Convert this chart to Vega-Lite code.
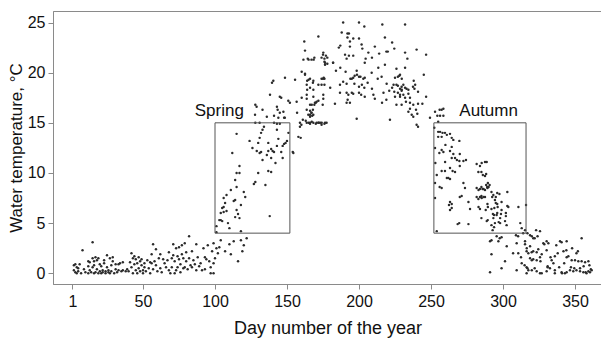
{
"$schema": "https://vega.github.io/schema/vega-lite/v6.json",
"width": 549, "height": 273,
"autosize": {"type": "none"},
"padding": {"left": 53, "top": 11, "right": 0, "bottom": 56},
"config": {"view": {"stroke": "#8a8a8a", "strokeWidth": 1}, "font": "Liberation Sans"},
"datasets": {
"pts": [
[2,0.8],[2,0.3],[3,0.9],[3,0.1],[4,0.6],[4,0.0],[5,0.5],[5,0.2],[6,0.9],[7,0.0],[8,2.3],[9,0.4],[10,0.1],
[12,0.0],[12,0.7],[12,1.2],[13,1.1],[13,0.3],[14,0.1],[15,3.1],[15,1.5],[15,0.6],[16,1.2],[16,0.0],[16,0.8],[17,1.6],[17,0.1],[18,1.3],[18,0.4],[19,0.0],[19,1.5],[20,0.2],[20,0.9],[21,0.0],[21,0.7],[22,0.3],[22,0.1],[23,1.0],[23,1.3],[24,0.2],[24,0.0],[25,0.6],[25,1.8],[26,0.3],[26,0.1],[27,1.5],[27,0.0],[28,0.8],[28,0.2],[29,1.2],[29,1.6],[30,0.0],[31,0.4],[31,0.9],[32,0.1],[33,0.3],[33,0.9],[34,1.0],[35,0.2],[36,1.1],[36,0.3],[38,0.2],
[39,0.4],[40,0.2],[41,1.1],[42,2.0],[42,0.6],[43,1.5],[43,0.0],[44,1.7],[44,0.9],[45,0.3],[45,1.4],[46,1.0],[46,0.0],[47,1.6],[47,0.5],[48,1.2],[48,0.2],[49,0.8],[49,1.4],[50,0.3],[50,0.0],[51,1.0],[51,0.6],[52,0.2],[53,1.3],[54,0.5],[55,0.0],[55,1.1],[56,1.0],[56,1.9],[57,2.9],[57,0.4],[58,1.2],[59,2.4],[59,0.8],[60,0.2],[61,1.5],[62,1.9],[62,0.5],[63,0.1],[64,1.4],[65,1.0],[66,0.6],[67,1.3],[68,2.1],[68,0.3],
[69,0.0],[70,1.5],[70,0.6],[71,2.9],[71,1.8],[72,0.0],[72,1.2],[73,2.5],[73,0.3],[74,1.7],[74,0.6],[75,2.6],[75,1.4],[76,0.9],[76,0.1],[77,2.8],[77,1.9],[78,0.5],[78,1.5],[79,3.0],[79,0.6],[80,1.2],[80,2.1],[81,0.4],[82,3.7],[82,1.5],[83,0.8],[84,2.2],[84,0.6],[85,1.3],[86,0.9],[87,2.9],[87,0.3],[88,1.6],[89,0.7],[90,1.0],[91,0.3],[92,2.5],[93,1.6],[93,0.4],[94,1.4],[95,2.8],[96,1.2],[97,0.0],[97,0.6],[98,2.2],[99,1.0],[99,0.0],
[100,1.5],[101,2.5],[102,2.0],[103,2.6],[101,4.7],[101,4.1],[103,5.3],[104,5.3],[104,6.0],[105,5.2],[105,6.5],[106,6.1],[106,6.6],[106,7.5],[107,7.0],[108,6.2],[108,7.8],[109,5.0],[110,4.5],[111,8.3],[112,12.0],[113,7.2],[114,5.6],[114,7.3],[114,9.3],[115,6.3],[115,8.6],[115,10.0],[115,13.9],[116,5.9],[117,5.5],[117,10.0],[117,10.7],[118,6.8],[118,4.2],[119,2.2],[120,8.1],[121,7.6],[99,3.0],[104,3.3],[110,2.9],[113,3.2],[118,3.3],[107,2.2],[111,1.9],[116,1.2],[120,2.8],[122,3.5],
[124,13.2],[127,8.9],[128,9.1],[130,10.0],[135,8.8],[137,10.2],[139,10.1],[138,5.7],[130,13.0],[129,12.2],[131,12.0],[132,12.1],[133,11.3],[131,13.5],[132,14.0],[133,14.3],[134,14.6],[137,13.0],[137,12.2],[139,12.4],[140,12.2],[139,11.5],[141,12.1],[143,12.7],[143,14.3],[144,13.4],[146,12.1],[147,11.5],[147,12.7],[149,13.0],[150,13.2],[148,12.9],[145,14.9],[141,15.0],[143,14.9],[148,15.5],[141,15.7],[145,16.0],[154,12.1],[128,15.0],[131,15.0],[128,16.8],[133,16.3],[126,12.5],[136,11.8],[142,11.0],[151,14.0],
[159.5,13.5],[159,15.0],[161,15.3],[163,15.2],[162,23.1],[162.5,22.2],[161.4,21.3],[165,21.3],[167,21.3],[169,21.5],[175,21.8],[177,21.7],[176,21.1],[178,20.9],[182,21.0],[160.2,20.1],[162.5,19.9],[164,19.2],[166,19.4],[168,19.0],[175.5,19.5],[148.6,19.5],[155.6,19.3],[139.6,19.0],[140.5,19.2],[138.2,17.8],[145,17.6],[146,17.5],[150.9,17.2],[156.7,17.1],[160.2,17.5],[163.7,17.8],[164,18.3],[170,17.0],[169,16.8],[168.3,18.3],[174.8,16.8],[166,16.2],[167,16.0],[168,16.3],[143,16.6],[143.5,16.3],[147.5,16.1],[148.5,15.5],[136,15.6],[128.9,16.6],[127.8,15.8],[144,15.5],[159,14.6],[160,14.8],[157.9,13.6],[163.7,15.0],[166,14.9],[170,14.9],[172,15.0],[174,14.8],[176,14.9],[166,15.8],[167.5,15.7],[154.4,12.0],[152,17.0],[157,16.0],
[189,25.0],[200,25.0],[203.7,24.6],[216.2,24.8],[188,24.0],[192,23.9],[193,23.9],[192,23.5],[196,23.4],[200,23.4],[193.7,23.1],[171.8,23.6],[201.8,22.8],[218,23.5],[223,23.0],[186,22.5],[187,22.7],[193.7,22.6],[211,22.6],[219,22.1],[220,22.1],[224.5,22.4],[206.5,22.0],[202.3,22.4],[190.3,21.8],[193,21.7],[196,21.7],[175.2,22.0],[176,21.4],[164.4,21.4],[168.5,21.3],[174,21.5],[178,21.5],[176.4,21.0],[176.4,20.8],[182,21.0],[191.4,21.4],[204.6,21.4],[204,21.0],[187,20.5],[213.4,20.5],[218,20.8],[226,20.4],[162.5,19.8],[190.7,20.1],[198.4,20.2],[198.6,19.8],[197,19.7],[200,19.6],[201,19.6],[203,19.4],[204,19.5],[194,19.4],[195,19.4],[196,19.5],[208.8,20.0],[215.7,19.6],[213,19.4],[225,19.5],[227,19.6],[228,19.7],[165,19.3],[168.3,19.2],[174,19.4],[175,19.4],[176,19.4],[174,18.8],[176,18.8],[166,18.5],[163.7,18.8],[171.8,18.8],[189,19.1],[186.8,18.8],[191.4,18.9],[196.8,18.9],[200,18.6],[202,18.8],[203.7,18.5],[195,18.0],[196,17.9],[200,18.0],[201.5,17.8],[186.8,18.0],[191.4,18.0],[219.2,18.9],[223,18.5],[224,18.8],[226,18.8],[227,18.7],[228.5,18.4],[229.6,18.6],[221,18.2],[224.5,18.1],[227,18.0],[229.6,18.2],[225,17.6],[228.5,17.6],[210,17.8],[211,17.4],[204,17.6],[163.7,17.4],[168.3,17.6],[169.4,17.0],[170.6,17.1],[171.8,17.2],[166,16.8],[167.2,16.8],[175.2,17.8],[175.2,17.4],[192.6,17.8],[192.1,17.3],[193.7,17.0],[191.4,17.0],[183.3,16.9],[219,17.3],[226,16.8],[229.6,16.8],[163.7,16.3],[164.8,15.8],[166,15.6],[167,16.0],[168.3,15.8],[165,15.0],[166,15.0],[167.2,15.1],[168.3,15.0],[170.6,15.0],[171.8,15.0],[173,15.0],[174.1,15.0],[176.4,15.0],[177.5,15.0],[198.4,15.4],[221.5,15.3],[180,18.5],[184,20.2],[209,21.5],[214,21.9],[206,19.0],[209,18.4],[216,17.0],[217,18.0],
[232,24.8],[240,22.3],[232,22.0],[233.6,21.4],[246.6,21.8],[232,20.5],[228.5,19.8],[229.7,19.4],[245,19.8],[238,19.2],[239,18.8],[237.5,18.6],[238.5,18.4],[230.8,18.8],[232,18.5],[233,18.4],[229.7,18.3],[234.3,18.3],[228.5,17.8],[230.8,17.8],[234.3,17.9],[232,17.5],[235.4,17.5],[232.6,17.1],[235.4,17.0],[237.7,16.8],[241,18.1],[246.6,17.6],[241,16.9],[244,16.9],[235.4,16.4],[239.6,16.3],[240.5,15.9],[240,14.8],[241,14.6],[236.6,15.8],[237.7,15.6],[234.3,16.1],[252.8,16.1],[256,16.3],[257.4,16.3],[258.6,16.4],[254.4,15.7],[256.3,15.7],[258.6,15.7],[249.3,15.5],[255,15.1],
[252.3,14.5],[255,14.1],[256.3,14.1],[258,14.0],[259.7,14.0],[261,13.8],[263.2,13.9],[264.4,13.5],[265.5,13.3],[255,13.6],[257.4,13.6],[269.7,13.2],[252.8,12.5],[257.4,12.3],[258.6,12.1],[263.2,12.2],[264.4,12.6],[255.8,12.0],[259.8,11.1],[264.4,11.5],[265.5,11.9],[266.7,11.5],[270,11.9],[268,11.3],[269.7,11.2],[272.5,11.2],[274.3,11.3],[263.2,10.5],[265,10.2],[266.7,10.1],[257.4,10.2],[259.7,10.2],[254,9.8],[261,9.5],[262,9.5],[263.2,9.4],[252.8,9.0],[281.7,10.9],[284,10.7],[285.2,11.0],[287.5,11.1],[282.9,10.1],[286,9.8],[288.3,9.9],[272.5,9.0],[273.6,8.5],[271.3,7.7],[270,7.6],[281.7,8.5],[284,8.4],[285.8,8.4],[287.5,8.3],[289.2,8.5],[284,7.6],[285.2,7.5],[287.5,7.6],[276,7.1],[281.7,7.6],[282.9,7.4],[263.2,7.1],[264.4,6.9],[262.5,6.8],[277.1,6.4],[283,6.6],[284,6.4],[288,6.3],[289.2,6.9],[269.6,5.0],[268.5,4.9],[276,4.9],[285,5.5],[254,4.2],[252.8,7.5],[256,8.6],[257.4,8.5],[263.2,6.3],[264.4,6.5],[253,11.0],[260,12.8],[270,10.7],[289.5,9.0],[290.7,8.8],[288.3,8.8],
[288.7,11.1],[285,10.1],[287.5,9.7],[289,8.6],[290,8.6],[285,8.6],[286.5,8.4],[283,8.3],[292,8.1],[293.3,7.8],[295,7.6],[296,8.0],[297.5,7.9],[303,8.1],[285,7.7],[286.5,7.6],[294.4,7.3],[295,7.0],[296,6.9],[299,7.1],[303,6.7],[303.7,6.6],[310.7,6.6],[316,6.8],[299,6.3],[293.8,5.8],[292,6.4],[293.3,5.5],[295.6,5.8],[298,5.5],[302,6.0],[302,5.7],[297,5.1],[298,5.0],[302.5,4.8],[301.4,5.2],[288.7,5.2],[292,4.8],[293.8,4.6],[292.8,4.3],[312,5.0],[313,4.5],[315.3,4.3],[314,4.0],[317,4.0],[318.8,3.8],[320,3.7],[323,4.3],[324,3.7],[325.7,4.2],[321,3.5],[322,3.5],[309,3.8],[310.5,3.7],[299,3.6],[297.7,3.5],[295.6,3.7],[292,3.3],[328,3.0],[302.6,2.7],[315.3,2.9],[316.5,2.5],[318.8,2.7],[291,3.2],[296.8,3.2],[309.5,3.0],[315.3,3.2],[289.4,5.3],[292.5,7.6],[289.5,6.6],[294,6.5],[296.3,6.6],[293,5.9],[296,6.0],[298.6,5.9],[294.4,5.0],
[328.7,2.9],[330.3,3.2],[331.5,3.0],[337,2.8],[339.6,3.2],[340.7,3.1],[344.2,3.2],[354.6,3.5],[307,2.0],[310.6,2.0],[292,1.9],[316.4,2.2],[317.6,2.0],[319.9,2.1],[321,2.2],[323.4,2.1],[324.5,2.4],[326.9,1.9],[330.3,2.3],[336,1.7],[333.8,1.3],[335,1.0],[338,2.0],[342,2.2],[344,2.3],[345.4,1.7],[351,2.0],[352,2.2],[347.7,1.3],[350,1.3],[352.3,1.2],[354.6,1.2],[357,1.1],[359.3,1.2],[344.2,1.6],[301.4,1.2],[318.8,1.5],[320,1.3],[321,1.4],[323.4,1.3],[325.7,1.6],[315,0.8],[316.4,0.6],[322,0.5],[317.6,0.3],[320,0.3],[323.4,0.2],[325.7,0.0],[326.9,0.0],[331,0.7],[332.6,0.5],[331,0.6],[330.3,0.2],[336,0.3],[336,0.0],[340.7,0.1],[343,0.0],[344.2,0.1],[341,0.0],[346.5,0.3],[348.8,0.2],[351,0.3],[353.5,0.2],[355.8,0.1],[357.4,0.1],[359.3,0.2],[361.6,0.3],[347.2,0.6],[349.5,0.5],[353.5,0.5],[291,0.1],[299,0.5],[309.5,0.3],[316.4,0.0],[317,0.5],[358,0.0],[360.4,0.1],[313,1.0],[312.5,1.6],[326,1.2],[333,1.6],[339,0.6],[342.5,1.0],[348,2.5],[356,0.7],[360,0.8],[361,0.4]
],
"boxes": [
{"season": "Spring", "d1": 100, "d2": 152, "t1": 4, "t2": 15, "ld": 103, "lt": 15.7},
{"season": "Autumn", "d1": 252, "d2": 316, "t1": 4, "t2": 15, "ld": 290, "lt": 15.7}
]
},
"layer": [
{
"data": {"name": "pts"},
"transform": [{"calculate": "datum[0]", "as": "day"}, {"calculate": "datum[1]", "as": "temp"}],
"mark": {"type": "point", "filled": true, "size": 6, "color": "#2b2b2b", "opacity": 1},
"encoding": {
"x": {"field": "day", "type": "quantitative",
"scale": {"domain": [-12.5, 368.75], "nice": false, "zero": false},
"axis": {"values": [1, 50, 100, 150, 200, 250, 300, 350], "grid": false, "title": "Day number of the year",
"titleFontSize": 18, "titleFont": "Liberation Sans", "titleFontWeight": "normal", "titleColor": "#111", "titlePadding": 10,
"labelFontSize": 16, "labelFont": "Liberation Sans", "labelColor": "#111", "labelPadding": 4,
"domainColor": "#8a8a8a", "tickColor": "#8a8a8a", "tickSize": 5, "labelFlush": false}},
"y": {"field": "temp", "type": "quantitative",
"scale": {"domain": [-1.07, 26.15], "nice": false, "zero": false},
"axis": {"values": [0, 5, 10, 15, 20, 25], "grid": false, "title": "Water temperature, °C",
"titleFontSize": 17, "titleFont": "Liberation Sans", "titleFontWeight": "normal", "titleColor": "#111", "titlePadding": 2,
"labelFontSize": 16, "labelFont": "Liberation Sans", "labelColor": "#111", "labelPadding": 3,
"domainColor": "#8a8a8a", "tickColor": "#8a8a8a", "tickSize": 5, "labelFlush": false}}
}
},
{
"data": {"name": "boxes"},
"mark": {"type": "rect", "fill": null, "stroke": "#555", "strokeWidth": 1},
"encoding": {
"x": {"field": "d1", "type": "quantitative"},
"x2": {"field": "d2"},
"y": {"field": "t1", "type": "quantitative"},
"y2": {"field": "t2"}
}
},
{
"data": {"name": "boxes"},
"mark": {"type": "text", "fontSize": 17, "font": "Liberation Sans", "color": "#111", "baseline": "alphabetic", "align": "center"},
"encoding": {
"x": {"field": "ld", "type": "quantitative"},
"y": {"field": "lt", "type": "quantitative"},
"text": {"field": "season"}
}
}
]
}
